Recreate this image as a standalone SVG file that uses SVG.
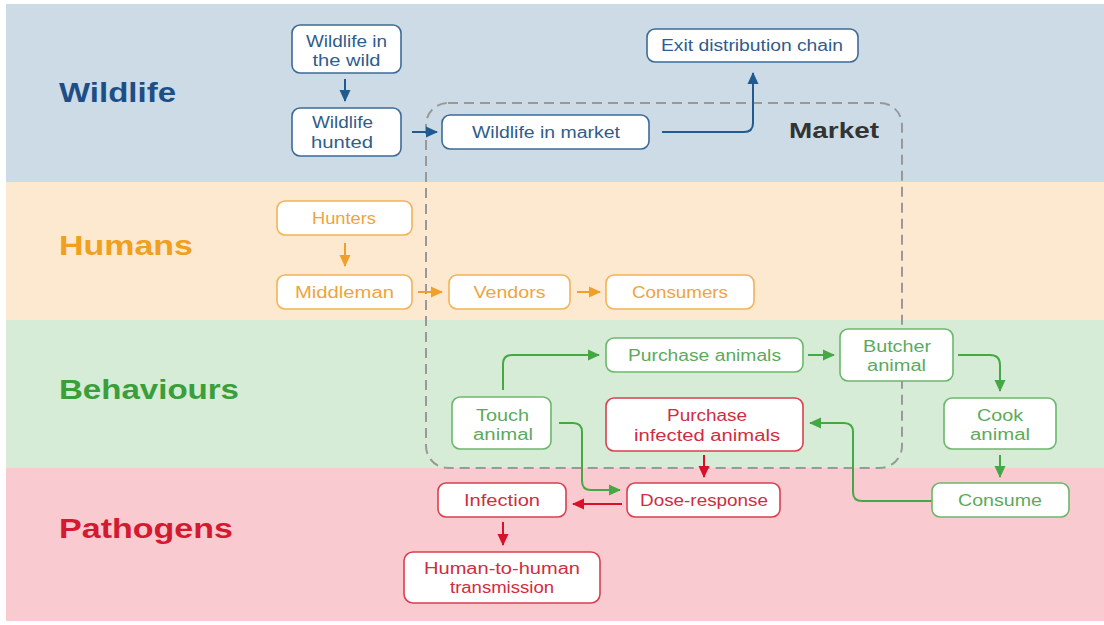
<svg xmlns="http://www.w3.org/2000/svg" width="1104" height="625" viewBox="0 0 1104 625">
  <style>
    .lane { font-family: "Liberation Sans", Arial, sans-serif; font-weight: bold; font-size: 28px; }
    .nt { font-family: "Liberation Sans", Arial, sans-serif; font-size: 16px; text-anchor: middle; }
    .box { fill: #ffffff; stroke-width: 1.6; }
    .blue .box { stroke: #3d6b98; } .blue .nt { fill: #2f5d8c; }
    .orange .box { stroke: #f3b356; } .orange .nt { fill: #efa43c; }
    .green .box { stroke: #6bb86b; } .green .nt { fill: #5caa5c; }
    .red .box { stroke: #d8404f; } .red .nt { fill: #d12c40; }
    .c { fill: none; stroke-width: 2; }
    .cb { stroke: #1f5a91; } .co { stroke: #f0a028; } .cg { stroke: #45a845; } .cr { stroke: #d8102a; }
  </style>
  <defs>
    <marker id="ab" viewBox="0 0 12 12" refX="11" refY="6" markerWidth="12" markerHeight="12" markerUnits="userSpaceOnUse" orient="auto"><path d="M0,0.5 L12,6 L0,11.5 z" fill="#1f5a91"/></marker>
    <marker id="ao" viewBox="0 0 12 12" refX="11" refY="6" markerWidth="12" markerHeight="12" markerUnits="userSpaceOnUse" orient="auto"><path d="M0,0.5 L12,6 L0,11.5 z" fill="#f0a028"/></marker>
    <marker id="ag" viewBox="0 0 12 12" refX="11" refY="6" markerWidth="12" markerHeight="12" markerUnits="userSpaceOnUse" orient="auto"><path d="M0,0.5 L12,6 L0,11.5 z" fill="#45a845"/></marker>
    <marker id="ar" viewBox="0 0 12 12" refX="11" refY="6" markerWidth="12" markerHeight="12" markerUnits="userSpaceOnUse" orient="auto"><path d="M0,0.5 L12,6 L0,11.5 z" fill="#d8102a"/></marker>
  </defs>

  <rect width="1104" height="625" fill="#ffffff"/>

  <!-- swim lanes -->
  <g id="lanes">
    <rect x="6" y="4" width="1098" height="178" fill="#cddbe6"/>
    <rect x="6" y="182" width="1098" height="138" fill="#fde9cf"/>
    <rect x="6" y="320" width="1098" height="148" fill="#d6ecd6"/>
    <rect x="6" y="468" width="1098" height="153" fill="#f9cad0"/>
    <text class="lane" x="59" y="102" fill="#1d4f86" textLength="117" lengthAdjust="spacingAndGlyphs">Wildlife</text>
    <text class="lane" x="59" y="255" fill="#f0a020" textLength="134" lengthAdjust="spacingAndGlyphs">Humans</text>
    <text class="lane" x="59" y="399" fill="#3a9e3a" textLength="180" lengthAdjust="spacingAndGlyphs">Behaviours</text>
    <text class="lane" x="59" y="538" fill="#d31a30" textLength="174" lengthAdjust="spacingAndGlyphs">Pathogens</text>
  </g>

  <!-- market boundary -->
  <g id="market">
    <rect x="426" y="103" width="476" height="365" rx="22" fill="none" stroke="#999999" stroke-width="2" stroke-dasharray="10 6"/>
    <text x="789" y="138" font-family="Liberation Sans, Arial, sans-serif" font-weight="bold" font-size="22" fill="#333333" textLength="90" lengthAdjust="spacingAndGlyphs">Market</text>
  </g>

  <!-- connectors -->
  <g id="connectors">
    <path class="c cb" d="M345,79 V101" marker-end="url(#ab)"/>
    <path class="c cb" d="M412,132 H437" marker-end="url(#ab)"/>
    <path class="c cb" d="M662,132 H744 Q753,132 753,123 V73" marker-end="url(#ab)"/>
    <path class="c co" d="M345,243 V266" marker-end="url(#ao)"/>
    <path class="c co" d="M418,292 H442" marker-end="url(#ao)"/>
    <path class="c co" d="M577,292 H600" marker-end="url(#ao)"/>
    <path class="c cg" d="M503,390 V364 Q503,355 512,355 H599" marker-end="url(#ag)"/>
    <path class="c cg" d="M808,355 H834" marker-end="url(#ag)"/>
    <path class="c cg" d="M958,355 H990 Q1000,355 1000,365 V391" marker-end="url(#ag)"/>
    <path class="c cg" d="M1000,455 V477" marker-end="url(#ag)"/>
    <path class="c cg" d="M932,501 H862 Q853,501 853,492 V432 Q853,423 844,423 H810" marker-end="url(#ag)"/>
    <path class="c cg" d="M559,423 H573 Q582,423 582,432 V481 Q582,490 591,490 H620" marker-end="url(#ag)"/>
    <path class="c cr" d="M704,455 V477" marker-end="url(#ar)"/>
    <path class="c cr" d="M622,504 H573" marker-end="url(#ar)"/>
    <path class="c cr" d="M503,522 V545" marker-end="url(#ar)"/>
  </g>

  <!-- wildlife nodes -->
  <g id="n-wild" class="blue">
    <rect class="box" x="292" y="25" width="109" height="48" rx="8"/>
    <text class="nt" x="346.5" y="47" textLength="81" lengthAdjust="spacingAndGlyphs">Wildlife in</text>
    <text class="nt" x="346.5" y="66" textLength="68" lengthAdjust="spacingAndGlyphs">the wild</text>
  </g>
  <g id="n-hunted" class="blue">
    <rect class="box" x="292" y="108" width="109" height="48" rx="8"/>
    <text class="nt" x="342.5" y="128" textLength="61" lengthAdjust="spacingAndGlyphs">Wildlife</text>
    <text class="nt" x="342" y="148" textLength="62" lengthAdjust="spacingAndGlyphs">hunted</text>
  </g>
  <g id="n-wmarket" class="blue">
    <rect class="box" x="442" y="115" width="207" height="34" rx="8"/>
    <text class="nt" x="546" y="137.5" textLength="148" lengthAdjust="spacingAndGlyphs">Wildlife in market</text>
  </g>
  <g id="n-exit" class="blue">
    <rect class="box" x="647" y="29" width="211" height="33" rx="8"/>
    <text class="nt" x="752" y="51" textLength="182" lengthAdjust="spacingAndGlyphs">Exit distribution chain</text>
  </g>

  <!-- human nodes -->
  <g id="n-hunters" class="orange">
    <rect class="box" x="277" y="201" width="135" height="34" rx="8"/>
    <text class="nt" x="344" y="223.5" textLength="64" lengthAdjust="spacingAndGlyphs">Hunters</text>
  </g>
  <g id="n-middleman" class="orange">
    <rect class="box" x="277" y="275" width="135" height="34" rx="8"/>
    <text class="nt" x="344.5" y="297.5" textLength="99" lengthAdjust="spacingAndGlyphs">Middleman</text>
  </g>
  <g id="n-vendors" class="orange">
    <rect class="box" x="449" y="275" width="121" height="34" rx="8"/>
    <text class="nt" x="509.5" y="297.5" textLength="72" lengthAdjust="spacingAndGlyphs">Vendors</text>
  </g>
  <g id="n-consumers" class="orange">
    <rect class="box" x="606" y="275" width="148" height="34" rx="8"/>
    <text class="nt" x="680" y="297.5" textLength="96" lengthAdjust="spacingAndGlyphs">Consumers</text>
  </g>

  <!-- behaviour nodes -->
  <g id="n-touch" class="green">
    <rect class="box" x="452" y="397" width="99" height="52" rx="8"/>
    <text class="nt" x="502.5" y="421" textLength="53" lengthAdjust="spacingAndGlyphs">Touch</text>
    <text class="nt" x="503" y="440" textLength="60" lengthAdjust="spacingAndGlyphs">animal</text>
  </g>
  <g id="n-purchase" class="green">
    <rect class="box" x="606" y="338" width="197" height="34" rx="8"/>
    <text class="nt" x="704.5" y="360.5" textLength="153" lengthAdjust="spacingAndGlyphs">Purchase animals</text>
  </g>
  <g id="n-butcher" class="green">
    <rect class="box" x="840" y="329" width="113" height="52" rx="8"/>
    <text class="nt" x="897" y="352" textLength="68" lengthAdjust="spacingAndGlyphs">Butcher</text>
    <text class="nt" x="896.5" y="371" textLength="59" lengthAdjust="spacingAndGlyphs">animal</text>
  </g>
  <g id="n-cook" class="green">
    <rect class="box" x="944" y="398" width="112" height="51" rx="8"/>
    <text class="nt" x="1000" y="421" textLength="46" lengthAdjust="spacingAndGlyphs">Cook</text>
    <text class="nt" x="1000" y="440" textLength="60" lengthAdjust="spacingAndGlyphs">animal</text>
  </g>
  <g id="n-consume" class="green">
    <rect class="box" x="932" y="483" width="137" height="34" rx="8"/>
    <text class="nt" x="1000" y="505.5" textLength="84" lengthAdjust="spacingAndGlyphs">Consume</text>
  </g>
  <g id="n-infected" class="red">
    <rect class="box" x="606" y="398" width="197" height="53" rx="8"/>
    <text class="nt" x="707" y="421" textLength="80" lengthAdjust="spacingAndGlyphs">Purchase</text>
    <text class="nt" x="707" y="441" textLength="146" lengthAdjust="spacingAndGlyphs">infected animals</text>
  </g>

  <!-- pathogen nodes -->
  <g id="n-dose" class="red">
    <rect class="box" x="627" y="483" width="153" height="34" rx="8"/>
    <text class="nt" x="704" y="505.5" textLength="128" lengthAdjust="spacingAndGlyphs">Dose-response</text>
  </g>
  <g id="n-infection" class="red">
    <rect class="box" x="438" y="483" width="128" height="34" rx="8"/>
    <text class="nt" x="502" y="505.5" textLength="76" lengthAdjust="spacingAndGlyphs">Infection</text>
  </g>
  <g id="n-h2h" class="red">
    <rect class="box" x="404" y="552" width="196" height="51" rx="9"/>
    <text class="nt" x="502" y="574" textLength="156" lengthAdjust="spacingAndGlyphs">Human-to-human</text>
    <text class="nt" x="502" y="593" textLength="104" lengthAdjust="spacingAndGlyphs">transmission</text>
  </g>
</svg>
